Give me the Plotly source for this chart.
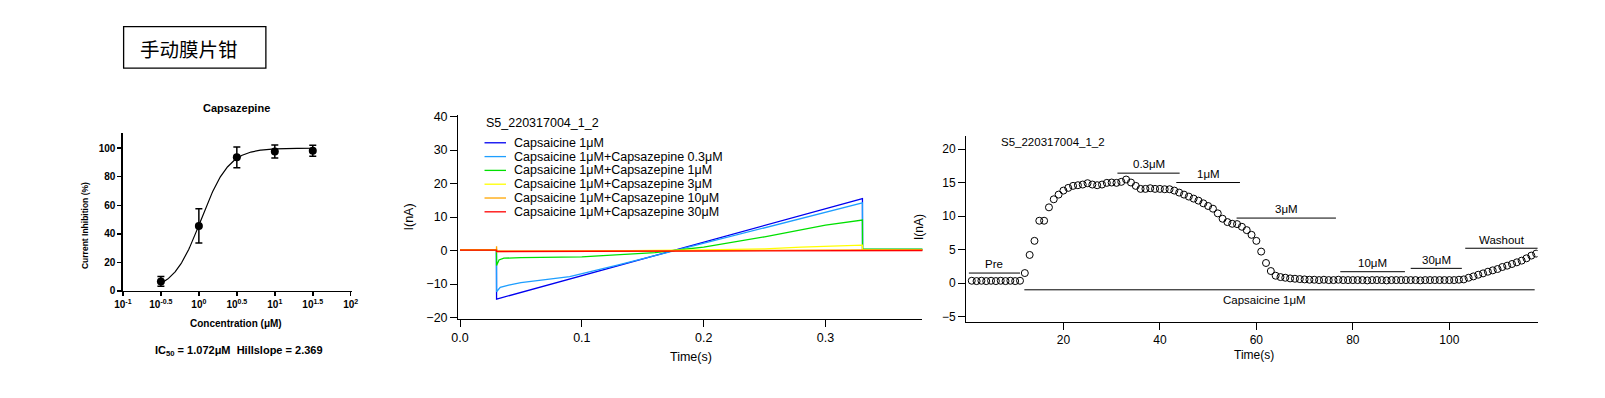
import numpy as np
import plotly.graph_objects as go

W, H = 1605, 398


def px(x):
    return x / W


def py(y):
    return 1 - y / H


ARIAL = "Arial, Liberation Sans, sans-serif"
CJK = "Noto Sans CJK SC, sans-serif"

# ---------------- Panel 1: concentration-response ----------------
conc_uM = [10 ** -0.5, 1.0, 10 ** 0.5, 10.0, 10 ** 1.5]
inhibition = [6.6, 45.5, 93.6, 97.7, 98.2]
inhibition_err = [3.4, 12.0, 7.3, 4.5, 3.9]
ic50_uM = 1.072
hillslope = 2.369
conc_tickvals = [0.1, 10 ** -0.5, 1, 10 ** 0.5, 10, 10 ** 1.5, 100]
conc_ticktext = ["10<sup>-1</sup>", "10<sup>-0.5</sup>", "10<sup>0</sup>", "10<sup>0.5</sup>",
                 "10<sup>1</sup>", "10<sup>1.5</sup>", "10<sup>2</sup>"]
inhib_ticks = [0, 20, 40, 60, 80, 100]

# ---------------- Panel 2: current traces ----------------
trace_names = ["Capsaicine 1μM",
               "Capsaicine 1μM+Capsazepine 0.3μM",
               "Capsaicine 1μM+Capsazepine 1μM",
               "Capsaicine 1μM+Capsazepine 3μM",
               "Capsaicine 1μM+Capsazepine 10μM",
               "Capsaicine 1μM+Capsazepine 30μM"]
trace_colors = ["#0000F0", "#1E9EFF", "#00E000", "#FFFF00", "#FFA500", "#FF0000"]

blue_t = [0.0, 0.02, 0.0299, 0.0300, 0.3303, 0.3304, 0.38]
blue_i = [0.2, 0.3, 0.2, -14.5, 15.5, 0.2, 0.2]
lightblue_t = [0.0, 0.0299, 0.0300, 0.033, 0.04, 0.05, 0.07, 0.09, 0.13, 0.177, 0.25, 0.3303, 0.3304, 0.38]
lightblue_i = [0.2, 0.2, -12.3, -11.0, -10.3, -9.6, -8.7, -7.8, -4.3, 0.0, 6.8, 14.2, 0.3, 0.3]
green_t = [0.0, 0.0299, 0.0300, 0.032, 0.036, 0.05, 0.1, 0.13, 0.16, 0.175, 0.2, 0.25, 0.3, 0.3303, 0.3304, 0.38]
green_i = [0.2, 0.2, -4.5, -2.8, -2.3, -2.1, -1.9, -1.3, -0.6, 0.0, 1.0, 4.1, 7.6, 9.1, 0.4, 0.4]
yellow_t = [0.0, 0.0299, 0.0300, 0.1, 0.2, 0.25, 0.28, 0.3303, 0.3304, 0.38]
yellow_i = [0.2, 0.2, -0.3, -0.2, 0.2, 0.5, 1.0, 1.6, 0.2, 0.2]
orange_t = [0.0, 0.0299, 0.0300, 0.0302, 0.17, 0.25, 0.3303, 0.3304, 0.38]
orange_i = [0.2, 0.2, 1.3, -0.2, -0.1, 0.1, 0.3, 0.2, 0.2]
red_t = [0.0, 0.0299, 0.0300, 0.3303, 0.3304, 0.38]
red_i = [0.1, 0.1, -0.3, -0.2, 0.0, 0.0]
traces_t = [blue_t, lightblue_t, green_t, yellow_t, orange_t, red_t]
traces_i = [blue_i, lightblue_i, green_i, yellow_i, orange_i, red_i]
time_ticks = [0.0, 0.1, 0.2, 0.3]
current_ticks = [-20, -10, 0, 10, 20, 30, 40]

# ---------------- Panel 3: time course ----------------
tc_time_s = list(range(1, 119))
tc_current_nA = [
    0.35, 0.3, 0.35, 0.3, 0.35, 0.3, 0.35, 0.3, 0.35, 0.3, 0.35,
    1.5, 4.2, 6.3, 9.3, 9.3, 11.3, 12.5, 13.2, 13.8,
    14.2, 14.5, 14.6, 14.7, 14.9, 14.7, 14.6, 14.7, 14.95, 15.0,
    14.95, 15.1, 15.45, 15.0, 14.5, 14.05, 14.05, 14.15, 14.05, 14.05,
    14.0, 14.0, 13.8, 13.5, 13.2, 12.9, 12.6, 12.3, 11.9, 11.5,
    11.1, 10.4, 9.6, 9.1, 8.85, 8.8, 8.4, 7.9, 7.2, 6.3,
    4.7, 3.0, 1.8, 1.1, 0.9, 0.8, 0.7, 0.65, 0.6, 0.55,
    0.5, 0.5, 0.45, 0.5, 0.45, 0.45, 0.5, 0.45, 0.45, 0.45,
    0.45, 0.45, 0.4, 0.45, 0.45, 0.45, 0.4, 0.45, 0.45, 0.45,
    0.45, 0.45, 0.45, 0.4, 0.45, 0.45, 0.45, 0.45, 0.45, 0.45,
    0.45, 0.5, 0.55, 0.8, 1.0, 1.25, 1.45, 1.7, 1.9, 2.1,
    2.4, 2.6, 2.85, 3.1, 3.35, 3.7, 4.1, 4.4,
]
# application bars: label, start (s), end (s), bar level (nA), label level (nA)
bar_labels = ["Pre", "0.3μM", "1μM", "3μM", "10μM", "30μM", "Washout"]
bar_start = [0.4, 31.2, 43.4, 55.9, 77.4, 92.0, 103.3]
bar_end = [11.0, 44.1, 56.6, 76.5, 90.8, 102.6, 118.4]
bar_level = [1.5, 16.4, 15.0, 9.7, 1.7, 2.2, 5.2]
label_level = [2.8, 17.8, 16.2, 11.1, 3.0, 3.4, 6.4]
caps_label = "Capsaicine 1μM"
caps_start, caps_end, caps_level, caps_label_level = 11.9, 117.7, -1.0, -2.5
tc_xticks = [20, 40, 60, 80, 100]
tc_yticks = [-5, 0, 5, 10, 15, 20]

fig = go.Figure()

# Panel 1 traces
fit_conc = np.logspace(np.log10(conc_uM[0]), np.log10(conc_uM[-1]), 300)
fit_inhib = 100.0 / (1.0 + (ic50_uM / fit_conc) ** hillslope)
fig.add_trace(go.Scatter(x=fit_conc, y=fit_inhib, mode="lines",
                         line=dict(color="black", width=1.2),
                         xaxis="x", yaxis="y", showlegend=False))
fig.add_trace(go.Scatter(x=conc_uM, y=inhibition, mode="markers",
                         marker=dict(color="black", size=8),
                         error_y=dict(type="data", array=inhibition_err, color="black",
                                      thickness=1.5, width=3.5),
                         xaxis="x", yaxis="y", showlegend=False))

# Panel 2 traces
for t, i, c in zip(traces_t, traces_i, trace_colors):
    fig.add_trace(go.Scatter(x=t, y=i, mode="lines", line=dict(color=c, width=1.3),
                             xaxis="x2", yaxis="y2", showlegend=False))

# Panel 3 trace
fig.add_trace(go.Scatter(x=tc_time_s, y=tc_current_nA, mode="markers",
                         marker=dict(symbol="circle-open", size=7, color="black",
                                     line=dict(width=1)),
                         xaxis="x3", yaxis="y3", showlegend=False))

axis_common = dict(showline=True, linecolor="black", ticks="outside", tickcolor="black",
                   showgrid=False, zeroline=False, color="black")

p1_font = dict(family=ARIAL, size=10, color="black", weight="bold")
p2_font = dict(family=ARIAL, size=12.5, color="black")
p3_font = dict(family=ARIAL, size=12, color="black")

layout = dict(
    width=W, height=H,
    autosize=False,
    margin=dict(l=0, r=0, t=0, b=0, pad=0),
    paper_bgcolor="white", plot_bgcolor="white",
    showlegend=False,
    hovermode=False,
    xaxis=dict(axis_common, domain=[px(115), px(346.5)], type="log", range=[-1, 2.02],
               anchor="y", tickvals=conc_tickvals, ticktext=conc_ticktext,
               linewidth=1.5, tickwidth=1.5, ticklen=4, tickfont=p1_font),
    yaxis=dict(axis_common, domain=[py(294), py(132)], range=[0, 110.4], anchor="x",
               tickvals=inhib_ticks, linewidth=1.5, tickwidth=1.5, ticklen=4,
               tickfont=p1_font),
    xaxis2=dict(axis_common, domain=[px(453.3), px(922)], range=[-0.0016, 0.3795],
                anchor="y2", tickvals=time_ticks, ticktext=["0.0", "0.1", "0.2", "0.3"],
                linewidth=1, ticklen=7, tickfont=p2_font),
    yaxis2=dict(axis_common, domain=[py(323.3), py(113.3)], range=[-20.55, 40.4],
                anchor="x2", tickvals=current_ticks, linewidth=1, ticklen=7,
                tickfont=p2_font),
    xaxis3=dict(axis_common, domain=[px(966), px(1543)], range=[-0.2, 118.3],
                anchor="y3", tickvals=tc_xticks, linewidth=1, ticklen=7,
                tickfont=p3_font),
    yaxis3=dict(axis_common, domain=[py(326), py(135)], range=[-5.8, 21.9],
                anchor="x3", tickvals=tc_yticks, linewidth=1, ticklen=7,
                tickfont=p3_font),
)

annotations = []
shapes = []

# Title box
shapes.append(dict(type="rect", xref="paper", yref="paper", x0=px(115.7), x1=px(259.3),
                   y0=py(65), y1=py(22.3), line=dict(color="black", width=1.3)))
annotations.append(dict(text="手动膜片钳", xref="paper", yref="paper", x=px(130),
                        y=py(45), xanchor="left", yanchor="middle", showarrow=False,
                        font=dict(family=CJK, size=19.5, color="black")))

# Panel 1 texts
annotations += [
    dict(text="Capsazepine", xref="paper", yref="paper", x=px(230), y=py(106),
         xanchor="center", yanchor="middle", showarrow=False,
         font=dict(family=ARIAL, size=11, color="black", weight="bold")),
    dict(text="Current Inhibition (%)", xref="paper", yref="paper", x=px(76), y=py(227),
         xanchor="center", yanchor="middle", textangle=-90, showarrow=False,
         font=dict(family=ARIAL, size=8.5, color="black", weight="bold")),
    dict(text="Concentration (μM)", xref="paper", yref="paper", x=px(229.5), y=py(328),
         xanchor="center", yanchor="middle", showarrow=False,
         font=dict(family=ARIAL, size=10, color="black", weight="bold")),
    dict(text="IC<sub>50</sub> = %.3fμM  Hillslope = %.3f" % (ic50_uM, hillslope),
         xref="paper", yref="paper", x=px(231.7), y=py(356),
         xanchor="center", yanchor="middle", showarrow=False,
         font=dict(family=ARIAL, size=11, color="black", weight="bold")),
]

# Panel 2 texts and manual legend
annotations += [
    dict(text="I(nA)", xref="paper", yref="paper", x=px(403.3), y=py(218),
         xanchor="center", yanchor="middle", textangle=-90, showarrow=False, font=p2_font),
    dict(text="Time(s)", xref="paper", yref="paper", x=px(688), y=py(361.5),
         xanchor="center", yanchor="middle", showarrow=False, font=p2_font),
    dict(text="S5_220317004_1_2", xref="paper", yref="paper", x=px(479), y=py(121.7),
         xanchor="left", yanchor="middle", showarrow=False, font=p2_font),
]
for k, (name, col) in enumerate(zip(trace_names, trace_colors)):
    yy = 141.7 + 14.2 * k
    shapes.append(dict(type="line", xref="paper", yref="paper", x0=px(480), x1=px(501.7),
                       y0=py(yy), y1=py(yy), line=dict(color=col, width=1.3)))
    annotations.append(dict(text=name, xref="paper", yref="paper", x=px(507.5), y=py(yy),
                            xanchor="left", yanchor="middle", showarrow=False, font=p2_font))

# Panel 3 texts
annotations += [
    dict(text="I(nA)", xref="paper", yref="paper", x=px(918), y=py(228),
         xanchor="center", yanchor="middle", textangle=-90, showarrow=False, font=p3_font),
    dict(text="Time(s)", xref="paper", yref="paper", x=px(1256.7), y=py(360),
         xanchor="center", yanchor="middle", showarrow=False, font=p3_font),
    dict(text="S5_220317004_1_2", xref="paper", yref="paper", x=px(999.5), y=py(140.7),
         xanchor="left", yanchor="middle", showarrow=False,
         font=dict(family=ARIAL, size=11.5, color="black")),
]
for lab, x0, x1, lv, ll in zip(bar_labels, bar_start, bar_end, bar_level, label_level):
    shapes.append(dict(type="line", xref="x3", yref="y3", x0=x0, x1=x1, y0=lv, y1=lv,
                       line=dict(color="black", width=1)))
    annotations.append(dict(text=lab, xref="x3", yref="y3", x=(x0 + x1) / 2, y=ll,
                            xanchor="center", yanchor="middle", showarrow=False,
                            font=dict(family=ARIAL, size=11.5, color="black")))
shapes.append(dict(type="line", xref="x3", yref="y3", x0=caps_start, x1=caps_end,
                   y0=caps_level, y1=caps_level, line=dict(color="black", width=1)))
annotations.append(dict(text=caps_label, xref="x3", yref="y3", x=61.6, y=caps_label_level,
                        xanchor="center", yanchor="middle", showarrow=False,
                        font=dict(family=ARIAL, size=11.5, color="black")))

layout["annotations"] = annotations
layout["shapes"] = shapes
fig.update_layout(**layout)

fig.write_html(
    "out.html",
    config={"displayModeBar": False, "staticPlot": True},
    post_script=(
        "document.documentElement.style.margin='0';"
        "document.body.style.margin='0';"
        "document.body.style.padding='0';"
        "document.body.style.overflow='hidden';"
        "document.documentElement.style.overflow='hidden';"
    ),
)
